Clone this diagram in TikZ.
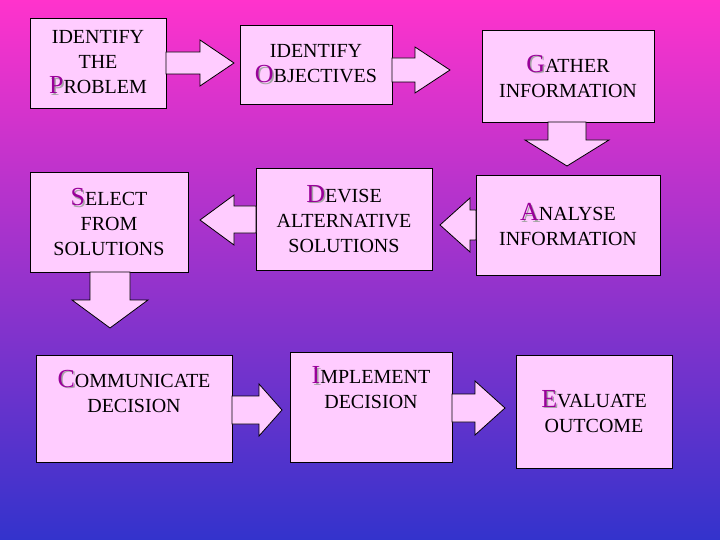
\documentclass[tikz,border=0pt]{standalone}
\usepackage{fontspec}
\setmainfont{Liberation Serif}
\begin{document}
\begin{tikzpicture}[x=1pt,y=-1pt,
  box/.style={draw=black,fill=boxpink,line width=0.8pt,inner sep=0pt,align=center,font=\fontsize{20}{25}\selectfont},
  blk/.style={draw=black,fill=boxpink,line width=0.8pt,line join=miter}]
\definecolor{boxpink}{HTML}{FFCCFF}
\definecolor{topc}{HTML}{FF33CC}
\definecolor{botc}{HTML}{3333CC}
\definecolor{fl}{HTML}{990099}
\newcommand\FL[1]{{\fontsize{26}{26}\selectfont\makebox[0pt][l]{\hspace{1.5pt}\raisebox{-1.5pt}{\textcolor{gray!70}{#1}}}\textcolor{fl}{#1}}}
\shade[top color=topc,bottom color=botc,middle color=topc!50!botc] (0,0) rectangle (720,540);
\useasboundingbox (0,0) rectangle (720,540);
\node[box,minimum width=136,minimum height=90] (b1) at (98,63) {IDENTIFY\\THE\\\FL{P}ROBLEM};
\node[box,minimum width=152,minimum height=79] (b2) at (316,64.5) {IDENTIFY\\\FL{O}BJECTIVES};
\node[box,minimum width=172,minimum height=92] (b3) at (568,76) {\FL{G}ATHER\\INFORMATION};
\node[box,minimum width=158,minimum height=100] (b4) at (109,222) {\FL{S}ELECT\\FROM\\SOLUTIONS};
\node[box,minimum width=176,minimum height=102] (b5) at (344,219) {\FL{D}EVISE\\ALTERNATIVE\\SOLUTIONS};
\node[box,minimum width=184,minimum height=100] (b6) at (568,225) {\FL{A}NALYSE\\INFORMATION};
\node[box,minimum width=196,minimum height=107] (b7) at (134,408.5) {\FL{C}OMMUNICATE\\DECISION\\[10pt]};
\node[box,minimum width=162,minimum height=110] (b8) at (371,407) {\FL{I}MPLEMENT\\DECISION\\[14pt]};
\node[box,minimum width=156,minimum height=113] (b9) at (594,411.5) {\FL{E}VALUATE\\OUTCOME};
% arrows
\draw[blk] (166,52)--(200,52)--(200,40)--(234,63)--(200,86)--(200,74)--(166,74)--cycle;
\draw[blk] (392,58)--(415,58)--(415,47)--(450,70)--(415,93)--(415,82)--(392,82)--cycle;
\draw[blk] (548,122)--(548,140)--(525,140)--(567,166)--(609,140)--(586,140)--(586,122)--cycle;
\draw[blk] (256,206)--(234,206)--(234,195)--(200,220)--(234,245)--(234,233)--(256,233)--cycle;
\draw[blk] (476,210)--(470,210)--(470,198)--(440,225)--(470,252)--(470,240)--(476,240)--cycle;
\draw[blk] (90,272)--(90,300)--(72,300)--(110,328)--(148,300)--(130,300)--(130,272)--cycle;
\draw[blk] (232,396)--(259,396)--(259,384)--(282,410)--(259,436)--(259,424)--(232,424)--cycle;
\draw[blk] (452,394)--(475,394)--(475,381)--(505,408)--(475,435)--(475,422)--(452,422)--cycle;
\end{tikzpicture}
\end{document}
